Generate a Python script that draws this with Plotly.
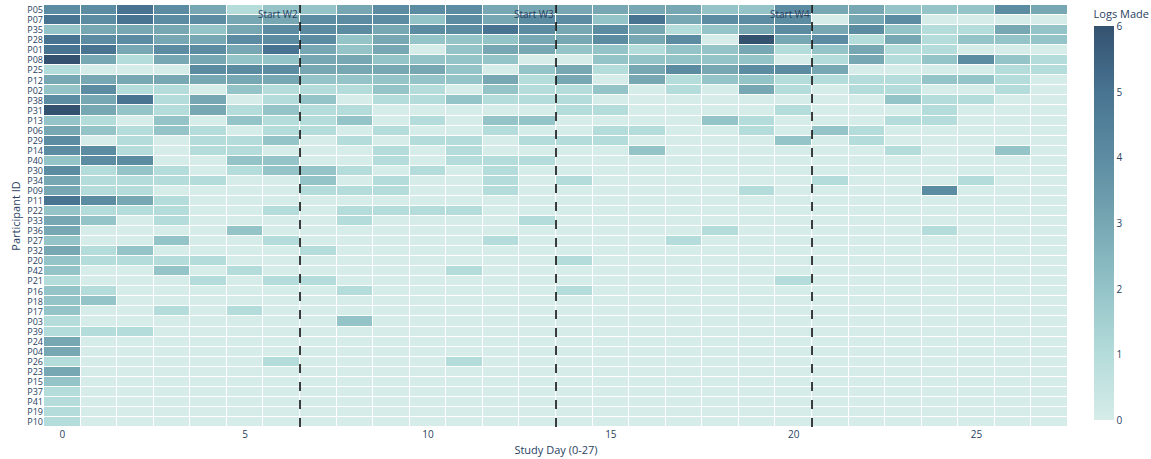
import plotly.graph_objects as go

participants = ["P05","P07","P35","P28","P01","P08","P25","P12","P02","P38",
                "P31","P13","P06","P29","P14","P40","P30","P34","P09","P11",
                "P22","P33","P36","P27","P32","P20","P42","P21","P16","P18",
                "P17","P03","P39","P24","P04","P26","P23","P15","P37","P41",
                "P19","P10"]

days = list(range(28))

P05 = [4,4,5,4,3,1,2,2,3,4,4,4,3,3, 3,3,3,3,2,2,4,3,3,2,2,2,4,3]
P07 = [5,4,5,4,4,3,3,4,4,4,2,4,3,4, 4,2,5,3,4,4,4,0,3,4,0,0,0,0]
P35 = [2,3,3,3,2,3,4,4,4,3,4,4,5,4, 3,4,3,1,2,3,4,3,4,2,1,1,3,2]
P28 = [5,4,4,3,3,4,4,4,2,3,2,2,2,3, 3,4,3,4,0,6,3,4,1,3,1,2,2,2]
P01 = [5,5,3,4,4,3,5,3,2,3,0,2,3,3, 2,2,1,2,2,3,1,2,3,1,1,0,0,0]
P08 = [6,3,1,3,3,2,2,3,3,2,2,2,2,0, 0,2,2,2,2,2,0,1,3,1,2,4,2,1]
P25 = [1,0,0,0,4,4,4,3,3,3,3,2,0,2, 3,1,3,4,3,4,4,3,0,0,0,0,1,1]
P12 = [3,3,3,3,3,3,3,2,2,2,2,2,3,1, 3,0,3,1,2,2,1,1,1,1,2,2,1,0]
P02 = [2,4,1,1,0,2,1,1,1,2,1,0,2,1, 1,2,0,1,0,3,1,0,1,1,0,0,1,0]
P38 = [4,3,5,1,3,0,1,2,0,1,1,2,1,1, 1,0,0,0,0,0,0,0,0,2,1,1,0,0]
P31 = [6,3,2,1,3,1,2,1,1,0,0,0,0,0, 1,1,0,0,0,0,1,0,0,0,1,0,0,0]
P13 = [2,1,0,2,0,2,1,1,2,0,1,0,2,2, 0,0,0,0,2,1,0,0,0,1,1,0,0,0]
P06 = [3,2,1,2,1,0,1,1,0,1,0,0,1,0, 0,1,1,0,0,1,0,2,1,0,0,0,0,0]
P29 = [4,0,1,0,1,1,2,0,1,0,1,1,0,1, 1,1,0,0,0,0,2,0,1,0,0,0,0,0]
P14 = [4,4,1,0,1,1,0,0,0,1,0,1,0,0, 0,0,2,0,0,0,0,0,0,1,0,0,2,0]
P40 = [2,4,4,0,0,2,2,0,0,1,0,1,1,1, 0,0,0,0,0,0,0,0,0,0,0,0,0,0]
P30 = [4,1,2,1,0,1,2,2,1,0,1,0,1,0, 0,0,0,0,0,0,0,0,0,0,0,0,0,0]
P34 = [3,1,1,1,1,0,0,2,0,1,0,0,1,0, 1,0,0,0,0,0,0,1,0,0,0,1,0,0]
P09 = [3,1,1,0,0,0,0,1,1,1,0,0,1,0, 0,0,0,0,0,1,0,0,0,0,4,0,0,0]
P11 = [5,4,3,1,0,0,0,0,0,0,0,0,0,0, 0,0,0,0,0,0,0,0,0,0,0,0,0,0]
P22 = [2,1,1,1,0,0,1,0,1,1,1,1,0,0, 0,0,0,0,0,0,0,0,0,0,0,0,0,0]
P33 = [3,2,0,1,0,0,0,0,1,0,0,0,0,1, 0,0,0,0,0,0,0,0,0,0,0,0,0,0]
P36 = [3,0,0,0,0,2,0,0,0,0,0,0,0,0, 0,0,0,0,1,0,0,0,0,0,1,0,0,0]
P27 = [2,0,0,2,0,0,1,0,0,0,0,0,1,0, 0,0,0,1,0,0,0,0,0,0,0,0,0,0]
P32 = [3,1,2,0,0,0,0,1,0,0,0,0,0,0, 0,0,0,0,0,0,0,0,0,0,0,0,0,0]
P20 = [2,1,1,1,1,0,0,0,0,0,0,0,0,0, 1,0,0,0,0,0,0,0,0,0,0,0,0,0]
P42 = [2,0,0,2,0,1,0,0,0,0,0,1,0,0, 0,0,0,0,0,0,0,0,0,0,0,0,0,0]
P21 = [1,0,0,0,1,0,1,1,0,0,0,0,0,0, 0,0,0,0,0,0,1,0,0,0,0,0,0,0]
P16 = [2,1,0,0,0,0,0,0,1,0,0,0,0,0, 1,0,0,0,0,0,0,0,0,0,0,0,0,0]
P18 = [2,2,0,0,0,0,0,0,0,0,0,0,0,0, 0,0,0,0,0,0,0,0,0,0,0,0,0,0]
P17 = [2,0,0,1,0,1,0,0,0,0,0,0,0,0, 0,0,0,0,0,0,0,0,0,0,0,0,0,0]
P03 = [1,0,0,0,0,0,0,0,2,0,0,0,0,0, 0,0,0,0,0,0,0,0,0,0,0,0,0,0]
P39 = [1,1,1,0,0,0,0,0,0,0,0,0,0,0, 0,0,0,0,0,0,0,0,0,0,0,0,0,0]
P24 = [3,0,0,0,0,0,0,0,0,0,0,0,0,0, 0,0,0,0,0,0,0,0,0,0,0,0,0,0]
P04 = [3,0,0,0,0,0,0,0,0,0,0,0,0,0, 0,0,0,0,0,0,0,0,0,0,0,0,0,0]
P26 = [1,0,0,0,0,0,1,0,0,0,0,1,0,0, 0,0,0,0,0,0,0,0,0,0,0,0,0,0]
P23 = [3,0,0,0,0,0,0,0,0,0,0,0,0,0, 0,0,0,0,0,0,0,0,0,0,0,0,0,0]
P15 = [2,0,0,0,0,0,0,0,0,0,0,0,0,0, 0,0,0,0,0,0,0,0,0,0,0,0,0,0]
P37 = [1,0,0,0,0,0,0,0,0,0,0,0,0,0, 0,0,0,0,0,0,0,0,0,0,0,0,0,0]
P41 = [1,0,0,0,0,0,0,0,0,0,0,0,0,0, 0,0,0,0,0,0,0,0,0,0,0,0,0,0]
P19 = [1,0,0,0,0,0,0,0,0,0,0,0,0,0, 0,0,0,0,0,0,0,0,0,0,0,0,0,0]
P10 = [1,0,0,0,0,0,0,0,0,0,0,0,0,0, 0,0,0,0,0,0,0,0,0,0,0,0,0,0]

rows = [P05,P07,P35,P28,P01,P08,P25,P12,P02,P38,P31,P13,P06,P29,P14,P40,P30,P34,
        P09,P11,P22,P33,P36,P27,P32,P20,P42,P21,P16,P18,P17,P03,P39,P24,P04,P26,
        P23,P15,P37,P41,P19,P10]

week_starts = [6.5, 13.5, 20.5]
week_labels = ["Start W2", "Start W3", "Start W4"]

scale_colors = ["#d6ece9", "#b4dcda", "#94c3c8", "#76a7b3", "#5c8ca2", "#487391", "#345270"]
colorscale = [[i / 6, c] for i, c in enumerate(scale_colors)]

fig = go.Figure(go.Heatmap(
    z=rows, x=days, y=participants,
    colorscale=colorscale, zmin=0, zmax=6,
    xgap=1, ygap=1,
    colorbar=dict(title=dict(text="Logs Made", side="top", font=dict(size=11)),
                  thickness=20, len=0.98, y=0.506, yanchor="middle", ypad=0,
                  x=1.025, xanchor="left", xpad=0, tickfont=dict(size=10),
                  outlinewidth=0),
))

for xv, lab in zip(week_starts, week_labels):
    fig.add_shape(type="line", x0=xv, x1=xv, y0=0, y1=1, yref="paper", xref="x",
                  line=dict(color="black", width=1.5, dash="dash"))
    fig.add_annotation(x=xv, y=1, yref="paper", xref="x", text=lab, showarrow=False,
                       xanchor="right", yanchor="top", font=dict(size=10, color="#2a3f5f"))

fig.update_layout(
    template="plotly_white",
    width=1151, height=459,
    margin=dict(l=44, r=83, t=5, b=32, autoexpand=False),
    font=dict(family="Open Sans", size=10, color="#2a3f5f"),
    xaxis=dict(title=dict(text="Study Day (0-27)", standoff=6, font=dict(size=11)),
               tickmode="array", tickvals=[0,5,10,15,20,25], showgrid=False,
               zeroline=False, automargin=False, tickfont=dict(size=10)),
    yaxis=dict(title=dict(text="Participant ID", font=dict(size=11), standoff=4),
               autorange="reversed", showgrid=False, tickfont=dict(size=9),
               dtick=1, automargin=False),
)

fig.write_html("out.html", config={"displayModeBar": False},
               post_script="document.body.style.margin='0px';")
